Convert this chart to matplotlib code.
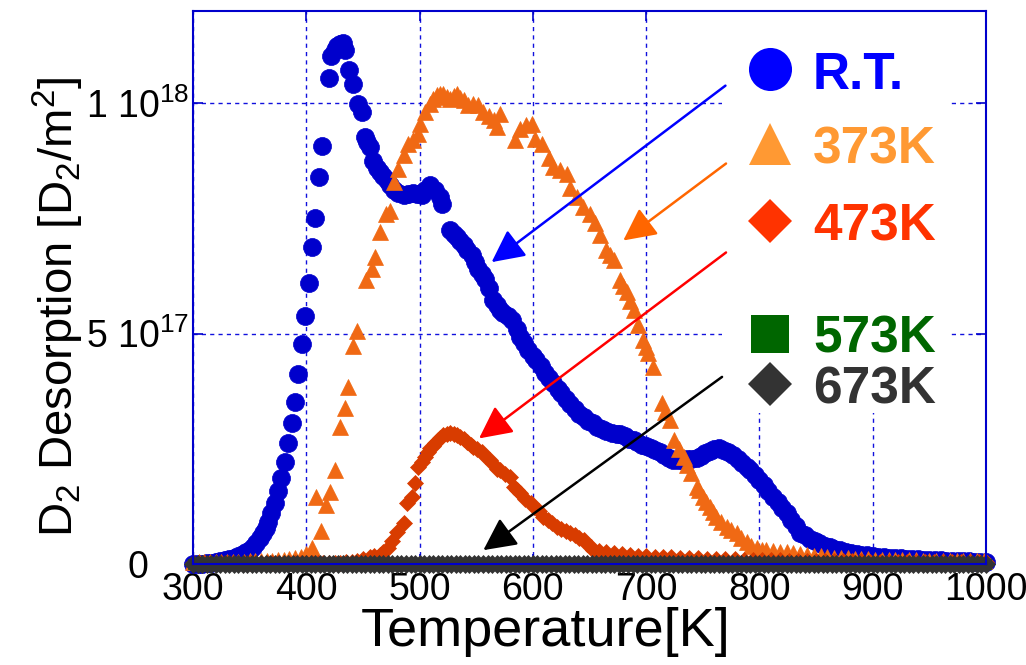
import numpy as np
import matplotlib.pyplot as plt
from matplotlib.patches import Rectangle

plt.rcParams['font.family'] = ['Liberation Sans', 'DejaVu Sans']
plt.rcParams['mathtext.fontset'] = 'custom'
plt.rcParams['mathtext.rm'] = 'Liberation Sans'
plt.rcParams['mathtext.it'] = 'Liberation Sans:italic'
plt.rcParams['mathtext.bf'] = 'Liberation Sans:bold'

# temperatures [K] and desorption [1e18 D2/m2]
t_rt = [300, 304, 308, 312, 316, 320, 324, 328, 332, 336,
        340, 344, 347, 350, 353, 356, 359, 362, 364, 366.5,
        369, 372, 375, 378, 381, 384, 387, 390, 393, 396,
        399, 402, 405, 408, 411, 414, 420, 422, 425, 427,
        430, 432, 434, 438, 441, 446, 449, 452, 454, 456,
        459, 462, 465, 468, 471, 474, 477, 481, 486, 490,
        494, 498, 502, 505, 509, 514, 518, 520, 527, 530,
        533, 536, 539, 542, 546, 549, 552, 555, 558, 561,
        565, 568, 571, 574, 578, 582, 586, 589, 592, 596,
        600, 603, 607, 611, 614, 618, 622, 625, 629, 633,
        637, 641, 645, 649, 653, 657, 661, 665, 670, 674,
        677, 681, 685, 689, 692, 696, 700, 704, 708, 712,
        716, 720, 724, 728, 732, 736, 740, 745, 748, 752,
        756, 760, 764, 768, 772, 777, 781, 785, 789, 792,
        796, 800, 804, 808, 812, 816, 820, 824, 828, 832,
        836, 840, 845, 849, 853, 858, 862, 866, 871, 876,
        881, 886, 890, 895, 900, 905, 910, 915, 920, 925,
        930, 935, 940, 945, 950, 955, 960, 965, 970, 975,
        980, 985, 990, 995, 1000]
d_rt = [.000, .001, .001, .002, .003, .004, .006, .008, .010, .013,
        .017, .021, .025, .030, .037, .046, .056, .067, .078, .092,
        .110, .133, .159, .186, .222, .262, .305, .352, .412, .477,
        .538, .609, .687, .751, .840, .907, 1.055, 1.103, 1.115, 1.125,
        1.128, 1.130, 1.116, 1.071, 1.042, .999, .981, .926, .915, .905,
        .875, .860, .851, .842, .833, .822, .811, .805, .800, .802,
        .804, .802, .800, .812, .822, .811, .796, .782, .724, .716,
        .710, .700, .692, .682, .670, .655, .641, .630, .618, .600,
        .572, .562, .552, .545, .538, .529, .510, .493, .480, .465,
        .452, .442, .430, .415, .404, .392, .380, .370, .358, .348,
        .336, .326, .318, .311, .305, .298, .292, .288, .284, .283,
        .283, .277, .272, .269, .264, .259, .256, .252, .248, .243,
        .237, .231, .226, .225, .226, .227, .228, .229, .234, .240,
        .246, .250, .251, .248, .243, .236, .228, .220, .211, .203,
        .193, .182, .171, .158, .146, .134, .122, .110, .096, .082,
        .067, .062, .055, .050, .045, .040, .036, .033, .030, .027,
        .024, .022, .020, .019, .017, .016, .015, .014, .013, .012,
        .011, .011, .010, .009, .009, .008, .008, .007, .007, .006,
        .006, .006, .005, .005, .005]

t_373 = [300, 305, 310, 315, 320, 325, 330, 335, 340, 345,
         350, 355, 360, 365, 370, 375, 380, 385, 390, 395,
         400, 405, 409, 413, 417, 421, 425, 430, 434, 437,
         441, 445, 453, 458, 461, 465, 470, 474, 477, 481,
         486, 490, 494, 499, 500.5, 505, 509, 512, 515, 518,
         521, 524, 527, 530, 533, 536, 539, 543, 547, 552,
         556, 561, 566, 568, 571, 584, 589, 594, 599, 602,
         608, 614, 618, 624, 630, 633, 639, 644, 650, 655,
         659, 665, 668, 672, 677, 680, 683, 686, 689, 693,
         697, 700, 702, 706, 714, 717, 721, 725, 729, 733,
         736, 740, 745, 747, 750, 753, 756, 759, 762, 766,
         771, 775, 780, 784, 789, 793, 798, 802, 806, 812,
         818, 824, 830, 836, 842, 848, 854, 860, 866, 872,
         878, 884, 890, 896, 902, 908, 914, 920, 926, 932,
         938, 944, 950, 956, 962, 968, 974, 980, 986, 992, 998]
d_373 = [.004, .004, .004, .004, .004, .005, .005, .005, .005, .005,
         .006, .006, .006, .007, .007, .008, .009, .010, .012, .016,
         .022, .034, .146, .072, .128, .157, .204, .298, .338, .384,
         .473, .506, .616, .641, .666, .720, .760, .765, .829, .858,
         .887, .912, .919, .934, .955, .981, .999, 1.008, 1.017, 1.020,
         1.020, 1.014, 1.010, 1.016, 1.020, 1.012, 1.006, .995, .999, .995,
         .981, .973, .963, .948, .977, .919, .945, .952, .955, .923,
         .912, .880, .861, .854, .847, .815, .796, .775, .760, .739,
         .715, .681, .670, .659, .616, .603, .590, .570, .551, .518,
         .486, .470, .457, .428, .350, .330, .312, .269, .250, .233,
         .215, .197, .168, .160, .146, .135, .124, .113, .103, .092,
         .081, .074, .067, .057, .048, .040, .034, .031, .030, .028,
         .027, .025, .023, .021, .019, .018, .017, .015, .014, .013,
         .012, .011, .010, .010, .009, .009, .009, .008, .008, .008,
         .008, .007, .007, .007, .007, .007, .006, .006, .006, .006, .006]

t_473 = [300, 305, 310, 315, 320, 325, 330, 335, 340, 345,
         350, 355, 360, 365, 370, 375, 380, 385, 390, 395,
         400, 405, 410, 415, 420, 425, 430, 435, 440, 445,
         450, 456, 460, 465, 468, 472, 476, 480, 486, 489,
         493, 496, 499, 502, 505, 507, 509, 511.5, 514, 516,
         518, 521, 524, 527, 530, 533, 536, 539, 542, 545,
         547, 551, 555, 558, 562, 565, 568, 571, 575, 580,
         583, 586, 589, 593, 598, 601, 605, 609, 613, 617,
         621, 625, 629, 633, 637, 641, 645, 648, 651, 653,
         658, 665, 672, 679, 686, 693, 700, 708, 715, 722,
         730, 738, 746, 754, 762, 770, 778, 786, 794, 802,
         810, 818, 826, 834, 842, 850, 858, 866, 874, 882,
         890, 898, 906, 914, 922, 930, 938, 946, 954, 962,
         970, 978, 986, 994, 1000]
d_473 = [.003, .003, .003, .003, .003, .003, .003, .003, .003, .003,
         .003, .003, .003, .003, .003, .003, .003, .003, .003, .003,
         .003, .003, .003, .003, .003, .003, .003, .004, .005, .007,
         .010, .016, .017, .020, .025, .034, .050, .070, .088, .132,
         .146, .175, .211, .222, .233, .243, .251, .257, .262, .268,
         .273, .279, .283, .285, .283, .280, .276, .271, .265, .259,
         .254, .249, .243, .234, .225, .218, .207, .204, .196, .189,
         .168, .160, .153, .142, .132, .124, .114, .103, .096, .088,
         .081, .076, .071, .067, .062, .057, .052, .044, .036, .030,
         .029, .027, .024, .021, .020, .018, .017, .016, .016, .015,
         .014, .013, .012, .011, .011, .010, .010, .009, .009, .008,
         .008, .008, .007, .007, .007, .007, .006, .006, .006, .006,
         .006, .005, .005, .005, .005, .005, .005, .005, .005, .005,
         .005, .005, .005, .005, .005]

# 573 K and 673 K show no desorption: every point sits on zero
t_573 = np.arange(300, 1001, 5)
d_573 = np.zeros(len(t_573))
t_673 = np.arange(300, 1001, 4)
d_673 = np.zeros(len(t_673))

series_t = [t_rt, t_373, t_473, t_573, t_673]
series_d = [d_rt, d_373, d_473, d_573, d_673]
data_colors = ['#0000CC', '#F06914', '#D83C00', '#006600', '#333333']
data_markers = ['o', '^', 'D', 's', 'D']
data_sizes = [13, 11, 8, 7, 9.5]

leg_labels = ['R.T.', '373K', '473K', '573K', '673K']
leg_colors = ['#0000FF', '#FF9933', '#FF3300', '#006600', '#333333']
leg_sizes = [31, 30, 22, 28, 22]

# arrows: tail -> head, in data units (K, 1e18 D2/m2)
arrow_tail = [(770, 1.038), (770.5, 0.869), (770.5, 0.676), (767, 0.406)]
arrow_head = [(563.6, 0.655), (679.8, 0.702), (552.5, 0.2725), (556.3, 0.030)]
arrow_colors = ['#0000FF', '#FF6600', '#FF0000', '#000000']

x_ticks = [300, 400, 500, 600, 700, 800, 900, 1000]
y_ticks = [0, 5e17, 1e18]
y_ticklabels = ['0', '5 10$^{17}$', '1 10$^{18}$']

fig = plt.figure(figsize=(10.26, 6.65), dpi=100)
ax = fig.add_axes([193 / 1026, 1 - 564 / 665, 793 / 1026, 553 / 665])

for t, d, c, m, s in zip(series_t, series_d, data_colors, data_markers, data_sizes):
    ax.plot(t, np.array(d) * 1e18, ls='none', marker=m, ms=s, mfc=c, mec=c,
            mew=0.5, clip_on=False, zorder=2)

ax.set_xlim(300, 1000)
ax.set_ylim(0, 1.2e18)
ax.set_xticks(x_ticks)
ax.set_yticks(y_ticks)
ax.set_yticklabels(y_ticklabels)
for lbl in ax.get_yticklabels():
    lbl.set_horizontalalignment('center')

ax.set_axisbelow(True)
ax.grid(True, color='#1111DD', ls=(0, (3, 3)), lw=1)
for sp in ax.spines.values():
    sp.set_color('#0000CC')
    sp.set_linewidth(1.5)
ax.tick_params(direction='in', length=7, width=1.2, color='#0000CC',
               top=True, right=True, labelsize=27)
ax.tick_params(axis='x', pad=6)
ax.tick_params(axis='y', pad=40)

ax.set_xlabel('Temperature[K]', fontsize=39)
ax.xaxis.set_label_coords(0.445, -0.078)
ax.set_ylabel('D$_2$ Desorption [D$_2$/m$^2$]', fontsize=34)
ax.yaxis.set_label_coords(-0.135, 0.465)

# white panel behind the key
ax.add_patch(Rectangle((0.667, 0.273), 0.288, 0.727, transform=ax.transAxes,
                       fc='white', ec='none', zorder=1))

mark_y = [0.8951, 0.7595, 0.6203, 0.4159, 0.3255]
text_y = [0.859, 0.7251, 0.5841, 0.3816, 0.2911]
for lab, c, m, s, my, ty in zip(leg_labels, leg_colors, data_markers, leg_sizes,
                                mark_y, text_y):
    ax.plot([0.7276], [my], marker=m, ms=s, color=c, mew=0,
            transform=ax.transAxes, clip_on=False, zorder=4)
    ax.text(0.7818, ty, lab, color=c, fontsize=37, fontweight='bold',
            va='baseline', ha='left', transform=ax.transAxes, zorder=4)

for (x0, y0), (x1, y1), c in zip(arrow_tail, arrow_head, arrow_colors):
    ax.annotate('', xy=(x1, y1 * 1e18), xytext=(x0, y0 * 1e18),
                arrowprops=dict(arrowstyle='-|>', color=c, lw=1.8,
                                mutation_scale=50, shrinkA=0, shrinkB=0),
                zorder=5)

fig.savefig('out.png', dpi=100)
